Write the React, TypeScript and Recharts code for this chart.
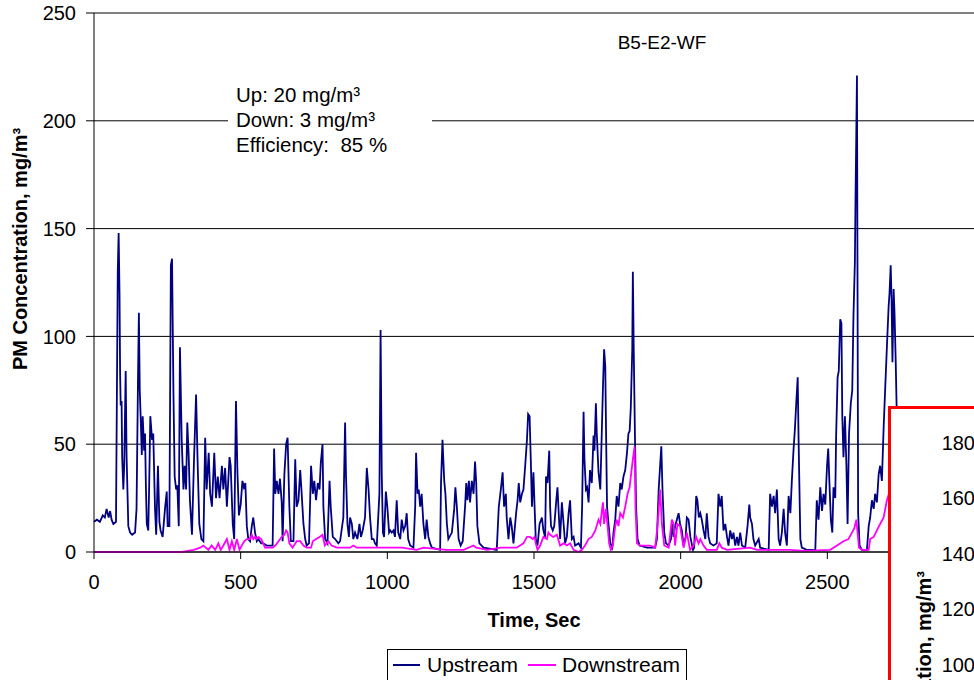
import React from "react";
import { LineChart, Line, XAxis, YAxis, CartesianGrid } from "recharts";

const FONT = "'Liberation Sans', Arial, sans-serif";

const xTicks = [0, 500, 1000, 1500, 2000, 2500];
const yTicks = [0, 50, 100, 150, 200, 250];
const insetTicks = [60, 80, 100, 120, 140, 160, 180];
const noteLines = ["Up: 20 mg/m³", "Down: 3 mg/m³", "Efficiency:  85 %"];

// upstream (sec, mg/m3)
const upTime = [
  0, 10, 20, 30, 37, 43, 50, 55, 60, 66, 75, 81, 84, 87, 89, 91, 94, 96, 100, 103, 108, 111, 117, 123, 130, 140,
  145, 150, 153, 156, 159, 163, 166, 171, 174, 177, 180, 185, 188, 192, 198, 202, 208, 212, 218, 223, 227, 234,
  242, 248, 251, 257, 262, 266, 271, 275, 280, 284, 289, 293, 299, 305, 309, 314, 318, 323, 327, 334, 341, 348,
  353, 359, 366, 373, 379, 384, 391, 396, 402, 410, 416, 422, 428, 436, 441, 447, 453, 462, 466, 473, 478, 484,
  489, 494, 500, 506, 511, 516, 521, 526, 532, 538, 543, 549, 555, 560, 570, 577, 589, 609, 614, 618, 623, 629,
  634, 640, 643, 649, 655, 660, 666, 671, 680, 686, 691, 697, 703, 708, 714, 720, 725, 733, 740, 746, 751, 757,
  763, 769, 773, 779, 782, 788, 796, 803, 807, 814, 822, 833, 839, 850, 856, 859, 864, 869, 873, 879, 884, 890,
  898, 905, 910, 916, 924, 930, 936, 941, 947, 953, 958, 964, 973, 977, 981, 985, 989, 995, 1000, 1006, 1010,
  1015, 1021, 1026, 1032, 1037, 1044, 1049, 1055, 1061, 1066, 1071, 1078, 1089, 1095, 1098, 1103, 1107, 1112,
  1117, 1123, 1129, 1134, 1140, 1146, 1152, 1180, 1183, 1188, 1194, 1198, 1203, 1208, 1220, 1228, 1232, 1237,
  1243, 1250, 1257, 1265, 1269, 1273, 1278, 1282, 1288, 1294, 1299, 1303, 1307, 1314, 1328, 1373, 1380, 1387,
  1393, 1398, 1404, 1407, 1413, 1419, 1424, 1430, 1439, 1444, 1448, 1453, 1459, 1464, 1470, 1476, 1480, 1485,
  1489, 1493, 1498, 1502, 1506, 1512, 1519, 1527, 1532, 1538, 1541, 1546, 1552, 1555, 1558, 1564, 1569, 1576,
  1580, 1585, 1589, 1595, 1601, 1606, 1612, 1618, 1623, 1629, 1635, 1640, 1652, 1660, 1664, 1669, 1672, 1677,
  1681, 1686, 1691, 1697, 1703, 1706, 1711, 1714, 1720, 1726, 1731, 1735, 1739, 1743, 1746, 1749, 1754, 1760,
  1767, 1771, 1777, 1782, 1788, 1794, 1799, 1805, 1811, 1817, 1822, 1826, 1830, 1835, 1837, 1840, 1844, 1848,
  1853, 1860, 1885, 1913, 1919, 1925, 1934, 1938, 1944, 1950, 1959, 1967, 1971, 1976, 1981, 1987, 1993, 1998,
  2004, 2010, 2017, 2021, 2027, 2033, 2042, 2046, 2053, 2057, 2062, 2067, 2072, 2078, 2084, 2089, 2095, 2101,
  2112, 2123, 2129, 2135, 2140, 2146, 2152, 2158, 2163, 2169, 2175, 2180, 2186, 2192, 2197, 2203, 2209, 2220,
  2228, 2234, 2237, 2243, 2248, 2254, 2266, 2271, 2300, 2305, 2311, 2317, 2322, 2328, 2334, 2339, 2345, 2351,
  2356, 2362, 2368, 2374, 2379, 2385, 2389, 2394, 2399, 2402, 2408, 2413, 2430, 2459, 2464, 2470, 2476, 2482,
  2487, 2493, 2499, 2503, 2508, 2512, 2517, 2521, 2527, 2530, 2535, 2539, 2544, 2548, 2551, 2555, 2560, 2565,
  2569, 2574, 2580, 2585, 2589, 2594, 2596, 2599, 2601, 2603, 2605, 2610, 2618, 2635, 2641, 2646, 2652, 2658,
  2663, 2669, 2675, 2680, 2686, 2692, 2697, 2703, 2709, 2712, 2716, 2719, 2722, 2726, 2729, 2733, 2737,
];
const upValue = [
  14, 15, 14, 17, 16, 20, 16, 19, 15, 13, 14, 130, 148, 120, 83, 68, 70, 44, 29, 40, 84, 45, 12, 9, 8, 9,
  20, 80, 111, 75, 63, 45, 63, 47, 55, 30, 13, 10, 30, 63, 52, 55, 20, 8, 40, 14, 10, 7,
  20, 28, 12, 12, 133, 136, 72, 35, 29, 31, 12, 95, 52, 29, 40, 29, 60, 44, 24, 8, 43, 73,
  43, 13, 6, 5, 53, 29, 46, 27, 21, 46, 25, 35, 25, 40, 29, 39, 21, 44, 40, 13, 6, 70,
  37, 17, 22, 33, 30, 32, 12, 6, 5, 12, 16, 9, 5, 6, 4, 4, 3, 3, 48, 27, 33, 27,
  34, 23, 5, 36, 50, 53, 21, 5, 5, 43, 21, 24, 38, 27, 13, 6, 3, 4, 40, 27, 33, 24,
  32, 29, 41, 50, 21, 6, 4, 33, 21, 7, 6, 4, 5, 16, 60, 36, 13, 7, 16, 13, 6, 9,
  6, 13, 7, 10, 16, 39, 29, 16, 6, 6, 4, 3, 27, 103, 36, 9, 7, 28, 21, 9, 10,
  9, 10, 7, 24, 9, 6, 15, 10, 12, 18, 6, 3, 2, 21, 46, 27, 29, 21,
  27, 13, 6, 15, 7, 4, 2, 1, 32, 52, 33, 27, 13, 6, 9, 20, 30, 21,
  6, 3, 5, 21, 32, 24, 33, 23, 33, 27, 42, 32, 12, 4, 2, 1, 21, 29,
  37, 21, 27, 16, 6, 16, 12, 4, 18, 24, 32, 23, 27, 29, 40, 52, 64, 63,
  43, 21, 37, 21, 6, 3, 13, 16, 10, 7, 35, 32, 47, 21, 12, 10, 12, 24,
  30, 16, 6, 23, 13, 4, 7, 18, 24, 6, 7, 3, 4, 2, 21, 65, 43, 29,
  30, 23, 38, 32, 54, 47, 69, 55, 37, 29, 55, 76, 94, 86, 52, 21, 13, 4,
  2, 9, 15, 26, 21, 32, 29, 35, 38, 46, 55, 56, 67, 94, 130, 94, 55, 21,
  6, 3, 2, 2, 6, 29, 49, 29, 9, 4, 3, 6, 13, 7, 12, 15, 18, 13,
  10, 3, 7, 16, 15, 7, 1, 2, 26, 24, 16, 18, 15, 10, 6, 18, 7, 4,
  3, 4, 27, 21, 26, 10, 13, 7, 3, 10, 6, 9, 3, 7, 3, 9, 3, 2,
  12, 22, 16, 13, 6, 3, 6, 2, 1, 27, 21, 26, 18, 29, 6, 3, 9, 20,
  9, 3, 26, 18, 33, 48, 56, 69, 81, 52, 6, 2, 1, 1, 24, 15, 30, 19,
  27, 22, 40, 48, 29, 15, 9, 30, 25, 54, 81, 84, 108, 106, 63, 44, 63, 40,
  13, 55, 69, 75, 109, 135, 163, 197, 221, 120, 18, 3, 1, 1, 12, 16, 24, 20,
  27, 23, 36, 40, 33, 58, 75, 95, 114, 120, 133, 117, 88, 122, 111, 89, 62,
];

// downstream
const downTime = [
  0, 300, 320, 340, 362, 373, 390, 401, 413, 424, 432, 441, 453, 462, 470, 478, 487, 496, 504, 512, 521, 532,
  538, 543, 549, 555, 560, 570, 577, 583, 595, 609, 618, 629, 640, 649, 655, 660, 666, 677, 691, 703, 714, 725,
  740, 746, 757, 769, 779, 787, 799, 810, 828, 873, 884, 896, 953, 975, 998, 1050, 1100, 1123, 1200, 1260,
  1294, 1303, 1340, 1387, 1441, 1464, 1476, 1486, 1496, 1502, 1506, 1512, 1521, 1532, 1544, 1549, 1555, 1566,
  1578, 1589, 1601, 1612, 1623, 1635, 1652, 1663, 1674, 1686, 1697, 1709, 1720, 1726, 1735, 1739, 1745, 1751,
  1756, 1762, 1769, 1777, 1782, 1788, 1794, 1803, 1811, 1819, 1826, 1830, 1837, 1843, 1846, 1851, 1862, 1873,
  1885, 1896, 1913, 1921, 1930, 1936, 1944, 1959, 1970, 1976, 1981, 1989, 1998, 2010, 2021, 2032, 2044, 2053,
  2061, 2067, 2078, 2089, 2123, 2132, 2140, 2158, 2237, 2260, 2328, 2374, 2419, 2510, 2533, 2555, 2572, 2584,
  2592, 2599, 2603, 2608, 2618, 2641, 2646, 2658, 2669, 2680, 2692, 2703, 2710, 2720,
];
const downValue = [
  0, 0, 0.5, 1, 2, 3, 1, 3, 1, 4, 1, 3, 6, 1, 5, 1, 6, 1, 3, 5, 6, 6,
  8, 6, 7, 6, 7, 6, 4, 2, 2, 2, 3, 5, 7, 8, 10, 9, 4, 2, 5, 5, 3, 2,
  2, 5, 6, 7, 8, 3, 5, 3, 2, 2, 3, 2, 2, 2, 2, 2, 1, 2, 1, 1,
  3, 2, 1, 2, 2, 4, 7, 7, 6, 7, 4, 1, 3, 7, 6, 9, 8, 7,
  8, 3, 4, 3, 4, 1, 0, 1, 3, 6, 7, 10, 15, 13, 23, 13, 20, 12,
  4, 1, 3, 12, 15, 12, 18, 16, 21, 27, 30, 35, 43, 49, 21, 4, 3, 3,
  3, 3, 2, 12, 29, 13, 3, 2, 15, 13, 3, 13, 12, 2, 9, 1, 3, 7,
  4, 6, 3, 1, 1, 4, 2, 1, 2, 1, 1, 1, 0.5, 1, 3, 5, 6, 9,
  11, 15, 9, 2, 1, 1, 6, 7, 10, 13, 16, 24, 27, 30,
];

const upData = upTime.map((t, i) => ({ t, v: upValue[i] }));
const downData = downTime.map((t, i) => ({ t, v: downValue[i] }));
// the second chart only shows its value axis here
const insetData = insetTicks.map((v) => ({ t: 0, v }));

const tickStyle = { fill: "#000", fontSize: 20, fontFamily: FONT };

function YTitle() {
  return (
    <text
      x={27}
      y={249}
      transform="rotate(-90 27 249)"
      textAnchor="middle"
      fontSize={20}
      fontWeight="bold"
      fill="#000"
      fontFamily={FONT}
    >
      PM Concentration, mg/m³
    </text>
  );
}

function InsetTitle() {
  return (
    <text
      x={40}
      y={162}
      transform="rotate(-90 40 162)"
      textAnchor="end"
      fontSize={20}
      fontWeight="bold"
      fill="#000"
      fontFamily={FONT}
    >
      PM Concentration, mg/m³
    </text>
  );
}

export default function App() {
  return (
    <div
      style={{
        position: "absolute",
        left: 0,
        top: 0,
        width: 974,
        height: 680,
        overflow: "hidden",
        background: "#fff",
        fontFamily: FONT,
      }}
    >
      <LineChart width={1000} height={680} margin={{ top: 13, right: 26, bottom: 48, left: 0 }}>
        <CartesianGrid vertical={false} stroke="#000" />
        <XAxis
          type="number"
          dataKey="t"
          domain={[0, 3000]}
          ticks={xTicks}
          height={80}
          tickSize={7}
          tickMargin={16}
          stroke="#000"
          tick={tickStyle}
          label={{
            value: "Time, Sec",
            position: "insideBottom",
            offset: 5,
            fill: "#000",
            fontSize: 20,
            fontWeight: "bold",
          }}
        />
        <YAxis
          type="number"
          domain={[0, 250]}
          ticks={yTicks}
          width={94}
          tickSize={8}
          tickMargin={10}
          stroke="#000"
          tick={tickStyle}
          label={<YTitle />}
        />
        <Line
          data={upData}
          dataKey="v"
          name="Upstream"
          type="linear"
          stroke="#000080"
          strokeWidth={1.8}
          dot={false}
          isAnimationActive={false}
        />
        <Line
          data={downData}
          dataKey="v"
          name="Downstream"
          type="linear"
          stroke="#ff00ff"
          strokeWidth={1.8}
          dot={false}
          isAnimationActive={false}
        />
      </LineChart>

      {/* title */}
      <div
        style={{
          position: "absolute",
          left: 562,
          top: 31,
          width: 200,
          textAlign: "center",
          fontSize: 19,
          lineHeight: "24px",
          color: "#000",
        }}
      >
        B5-E2-WF
      </div>

      {/* averages note */}
      <div
        style={{
          position: "absolute",
          left: 228,
          top: 82,
          width: 196,
          paddingLeft: 8,
          background: "#fff",
          fontSize: 20.5,
          lineHeight: "25px",
          whiteSpace: "pre",
          color: "#000",
        }}
      >
        {noteLines.map((s) => (
          <div key={s}>{s}</div>
        ))}
      </div>

      {/* legend */}
      <div
        style={{
          position: "absolute",
          left: 387,
          top: 649,
          width: 300,
          height: 40,
          boxSizing: "border-box",
          border: "1px solid #000",
          background: "#fff",
          padding: "3px 0 0 5px",
        }}
      >
        <div style={{ display: "flex", alignItems: "center", height: 24, fontSize: 21, color: "#000" }}>
          <span style={{ display: "inline-block", width: 27, height: 2, background: "#000080", marginRight: 7 }} />
          <span style={{ marginRight: 10 }}>Upstream</span>
          <span style={{ display: "inline-block", width: 28, height: 2, background: "#ff00ff", marginRight: 6 }} />
          <span>Downstream</span>
        </div>
      </div>

      {/* overlapping second chart */}
      <div
        style={{
          position: "absolute",
          left: 888,
          top: 406,
          width: 200,
          height: 300,
          boxSizing: "border-box",
          border: "3px solid #ff0000",
          background: "#fff",
          overflow: "hidden",
        }}
      >
        <LineChart width={200} height={380} data={insetData} margin={{ top: 6, right: 0, bottom: 13, left: 0 }}>
          <XAxis hide type="number" dataKey="t" domain={[0, 3000]} allowDataOverflow />
          <YAxis
            type="number"
            dataKey="v"
            domain={[60, 190]}
            allowDataOverflow
            ticks={insetTicks}
            width={102}
            tickSize={8}
            tickMargin={10}
            stroke="#000"
            tick={tickStyle}
            label={<InsetTitle />}
          />
        </LineChart>
      </div>
    </div>
  );
}
